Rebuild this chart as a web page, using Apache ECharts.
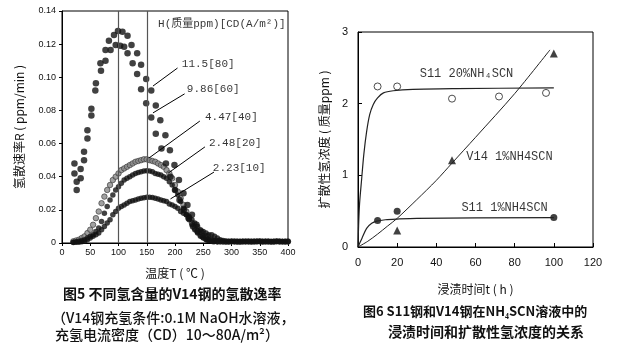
<!DOCTYPE html>
<html><head><meta charset="utf-8">
<script src="https://cdn.jsdelivr.net/npm/echarts/dist/echarts.min.js"></script>
<style>html,body{margin:0;padding:0;background:#fff}#c{width:617px;height:348px}</style>
</head><body><div id="c"></div>
<script>
// ---------- Figure 5 data (temperature °C, rate ppm/min) ----------
const temp80 = [22,26,33,39,45,52,60,68,77,83,92,99,107,116,123,133,140,149,158,166,174,183,191,199,207,215,222,230,238,246,255,264,275];
const rate80 = [0.048,0.037,0.0446,0.055,0.068,0.081,0.0964,0.1085,0.1165,0.122,0.1255,0.128,0.1275,0.125,0.1195,0.1145,0.1075,0.099,0.092,0.083,0.074,0.065,0.056,0.047,0.038,0.030,0.023,0.017,0.011,0.007,0.004,0.002,0.001];
const temp60 = [22,26,33,39,45,52,59,69,77,86,95,103,110,116,125,133,140,149,158,166,176,184,192,200,208,216,224,232,240,249,258,268];
const rate60 = [0.042,0.032,0.039,0.050,0.063,0.077,0.092,0.104,0.110,0.1165,0.1195,0.119,0.1185,0.1145,0.1085,0.102,0.0928,0.0843,0.0758,0.066,0.057,0.048,0.040,0.032,0.026,0.020,0.015,0.010,0.007,0.004,0.002,0.001];
const tempLow = [20,25,30,35,40,45,50,55,60,65,70,75,80,85,90,95,100,105,110,115,120,125,130,135,140,145,150,155,160,165,170,175,180,185,190,195,200,205,210,215,220,225,230,235,240,245,250,255,260,265,270,275,280,285,290,295,300,305,310,315,320,325,330,335,340,345,350,355,360,365,370,375,380,385,390,395,400];
const rate40 = [0.001,0.0015,0.002,0.003,0.004,0.006,0.008,0.011,0.015,0.019,0.024,0.028,0.032,0.035,0.038,0.040,0.042,0.044,0.045,0.046,0.047,0.048,0.049,0.0495,0.050,0.0505,0.0505,0.050,0.0495,0.049,0.048,0.047,0.046,0.044,0.042,0.039,0.035,0.031,0.027,0.023,0.019,0.015,0.012,0.009,0.007,0.005,0.0035,0.0025,0.002,0.0015,0.0012,0.001,0.001,0.0009,0.0008,0.0008,0.0009,0.001,0.0008,0.0007,0.0008,0.001,0.0009,0.0008,0.0008,0.0009,0.001,0.0008,0.0008,0.0009,0.0008,0.0008,0.001,0.0009,0.0008,0.0008,0.0009];
const rate20 = [0.0005,0.0008,0.001,0.0015,0.002,0.003,0.004,0.005,0.007,0.009,0.013,0.018,0.022,0.026,0.029,0.032,0.034,0.036,0.038,0.039,0.040,0.041,0.042,0.0425,0.043,0.0435,0.0436,0.0435,0.043,0.042,0.0415,0.041,0.040,0.039,0.037,0.035,0.032,0.029,0.025,0.021,0.017,0.014,0.011,0.008,0.006,0.004,0.003,0.002,0.0015,0.001,0.001,0.0009,0.0008,0.0008,0.0007,0.0008,0.0009,0.0008,0.0007,0.0008,0.0009,0.0008,0.0007,0.0008,0.0009,0.001,0.0009,0.0008,0.0009,0.0008,0.0007,0.0008,0.0009,0.0008,0.0009,0.0008,0.0008];
const rate10 = [0.0003,0.0004,0.0005,0.0007,0.001,0.002,0.003,0.004,0.005,0.006,0.008,0.010,0.012,0.014,0.017,0.019,0.021,0.022,0.023,0.024,0.025,0.0255,0.026,0.0265,0.027,0.0273,0.0276,0.0276,0.0275,0.027,0.0265,0.026,0.0255,0.025,0.0235,0.023,0.022,0.021,0.019,0.018,0.017,0.016,0.014,0.012,0.010,0.008,0.007,0.006,0.005,0.005,0.004,0.003,0.002,0.0015,0.0012,0.001,0.001,0.0009,0.001,0.0011,0.001,0.0009,0.001,0.0011,0.001,0.0009,0.001,0.001,0.0011,0.001,0.0009,0.001,0.0011,0.001,0.0009,0.001,0.001];
const fig5Labels = ['11.5[80]','9.86[60]','4.47[40]','2.48[20]','2.23[10]'];
const fig5Header = 'H(质量ppm)[CD(A/m²)]';
const fig5XTicks = [0,50,100,150,200,250,300,350,400];
const fig5YTicks = [0,0.02,0.04,0.06,0.08,0.10,0.12,0.14];

// ---------- Figure 6 data (time h, concentration ppm) ----------
const s11HiT = [10,20,48,72,96];
const s11HiV = [2.24,2.24,2.07,2.10,2.15];
const s11LoT = [10,20,100];
const s11LoV = [0.37,0.50,0.41];
const v14T = [20,48,100];
const v14V = [0.23,1.21,2.70];
const s11HiCurveT = [0,0.7,1.9,3,4.4,6,7.8,10,13,18,28,50,100];
const s11HiCurveV = [0,0.56,0.96,1.3,1.61,1.85,1.99,2.08,2.15,2.18,2.20,2.21,2.22];
const s11LoCurveT = [0,2,4.4,7,9.5,14,20,30,100];
const s11LoCurveV = [0,0.12,0.26,0.33,0.36,0.38,0.39,0.40,0.41];
const v14CurveT = [0,5,10,15,20,30,40,48,60,80,98];
const v14CurveV = [0,0.08,0.18,0.29,0.40,0.66,0.93,1.17,1.53,2.14,2.75];
const fig6Labels = ['S11 20%NH₄SCN','V14 1%NH4SCN','S11 1%NH4SCN'];

const zip = (a,b) => a.map((v,i)=>[v,b[i]]);
const monoFont = "'Liberation Mono','Noto Sans CJK SC',monospace";
const cjk = "'Noto Sans CJK SC','Liberation Sans',sans-serif";

const chart = echarts.init(document.getElementById('c'), null, {renderer:'canvas'});
const lbl = () => ({show:true, position:'right', distance:0, formatter:p=>p.data[2], color:'#000', fontFamily:monoFont, fontSize:11, align:'left', verticalAlign:'middle'});
const leader = (a,b) => [{coord:a},{coord:b}];

chart.setOption({
  animation:false,
  backgroundColor:'#fff',
  grid:[
    {left:62, top:11, width:226, height:232, show:true, borderColor:'#000', borderWidth:1},
    {left:358, top:32, width:235, height:215, show:true, borderColor:'#000', borderWidth:1}
  ],
  xAxis:[
    {gridIndex:0, type:'value', min:0, max:400, interval:50,
     name:'温度T ( ℃ )', nameLocation:'middle', nameGap:24, nameTextStyle:{fontFamily:cjk, fontSize:12, color:'#111'},
     axisLine:{lineStyle:{color:'#000'}}, axisTick:{show:true, length:3, lineStyle:{color:'#000'}},
     splitLine:{show:false}, axisLabel:{color:'#111', fontSize:9, margin:5, fontFamily:'Liberation Sans'}},
    {gridIndex:1, type:'value', min:0, max:120, interval:20,
     name:'浸渍时间t ( h )', nameLocation:'middle', nameGap:36, nameTextStyle:{fontFamily:cjk, fontSize:12, color:'#111'},
     axisLine:{lineStyle:{color:'#000'}}, axisTick:{show:true, inside:true, length:4, lineStyle:{color:'#000'}},
     splitLine:{show:false}, axisLabel:{color:'#111', fontSize:11, margin:10, fontFamily:'Liberation Sans'}}
  ],
  yAxis:[
    {gridIndex:0, type:'value', min:0, max:0.14, interval:0.02,
     name:'氢散速率R ( ppm/min )', nameLocation:'middle', nameGap:37, nameRotate:90, nameTextStyle:{fontFamily:cjk, fontSize:12, color:'#111'},
     axisLine:{lineStyle:{color:'#000'}}, axisTick:{show:true, length:3, lineStyle:{color:'#000'}},
     splitLine:{show:false}, axisLabel:{color:'#111', fontSize:9, margin:6, fontFamily:'Liberation Sans', formatter:v=>v===0?'0':v.toFixed(2)}},
    {gridIndex:1, type:'value', min:0, max:3, interval:1,
     name:'扩散性氢浓度 ( 质量ppm )', nameLocation:'middle', nameGap:28, nameRotate:90, nameTextStyle:{fontFamily:cjk, fontSize:12, color:'#111'},
     axisLine:{lineStyle:{color:'#000'}}, axisTick:{show:true, inside:true, length:4, lineStyle:{color:'#000'}},
     splitLine:{show:false}, axisLabel:{color:'#111', fontSize:11, margin:10, fontFamily:'Liberation Sans'}}
  ],
  series:[
    {type:'scatter', xAxisIndex:0, yAxisIndex:0, data:zip(tempLow,rate40), symbolSize:5.5,
     itemStyle:{color:'#8a8a8a', borderColor:'#333', borderWidth:0.8},
     markLine:{silent:true, symbol:'none', label:{show:false}, lineStyle:{color:'#555', width:1.2, type:'solid'},
       data:[{xAxis:100},{xAxis:150}]}},
    {type:'scatter', xAxisIndex:0, yAxisIndex:0, data:zip(tempLow,rate20), symbolSize:5.5, itemStyle:{color:'#111'}},
    {type:'scatter', xAxisIndex:0, yAxisIndex:0, data:zip(tempLow,rate10), symbolSize:5.5, itemStyle:{color:'#111'}},
    {type:'scatter', xAxisIndex:0, yAxisIndex:0, data:zip(temp60,rate60), symbolSize:6.5, itemStyle:{color:'#111'}},
    {type:'scatter', xAxisIndex:0, yAxisIndex:0, data:zip(temp80,rate80), symbolSize:6.5, itemStyle:{color:'#111'}},
    {type:'scatter', xAxisIndex:0, yAxisIndex:0, symbolSize:0, silent:true,
     data:[[212,0.108,fig5Labels[0]],[221,0.093,fig5Labels[1]],[253,0.076,fig5Labels[2]],[260,0.060,fig5Labels[3]],[267,0.045,fig5Labels[4]],[170,0.132,fig5Header]],
     label:lbl(),
     markLine:{silent:true, symbol:'none', label:{show:false}, lineStyle:{color:'#000', width:1, type:'solid'},
       data:[leader([161,0.0947],[204.5,0.1056]), leader([161,0.0785],[217,0.090]), leader([154,0.0513],[244,0.0736]), leader([188,0.0422],[253,0.058]), leader([192,0.0266],[269,0.0428])]}},
    // Figure 6
    {type:'line', xAxisIndex:1, yAxisIndex:1, data:zip(s11HiCurveT,s11HiCurveV), smooth:0.3, showSymbol:false, lineStyle:{color:'#222', width:1.2}},
    {type:'line', xAxisIndex:1, yAxisIndex:1, data:zip(s11LoCurveT,s11LoCurveV), smooth:0.3, showSymbol:false, lineStyle:{color:'#222', width:1.2}},
    {type:'line', xAxisIndex:1, yAxisIndex:1, data:zip(v14CurveT,v14CurveV), smooth:0.3, showSymbol:false, lineStyle:{color:'#222', width:1}},
    {type:'scatter', xAxisIndex:1, yAxisIndex:1, data:zip(s11HiT,s11HiV), symbol:'circle', symbolSize:7, itemStyle:{color:'#fff', borderColor:'#222', borderWidth:1}},
    {type:'scatter', xAxisIndex:1, yAxisIndex:1, data:zip(s11LoT,s11LoV), symbol:'circle', symbolSize:7, itemStyle:{color:'#111'}},
    {type:'scatter', xAxisIndex:1, yAxisIndex:1, data:zip(v14T,v14V), symbol:'triangle', symbolSize:8, itemStyle:{color:'#111'}},
    {type:'scatter', xAxisIndex:1, yAxisIndex:1, symbolSize:0, silent:true,
     data:[[31.5,2.41,fig6Labels[0]],[55.3,1.26,fig6Labels[1]],[52.8,0.55,fig6Labels[2]]],
     label:Object.assign(lbl(), {fontSize:12})}
  ],
  graphic:[
    {type:'text', left:63, top:287, style:{text:'图5 不同氢含量的V14钢的氢散逸率', font:"bold 14px 'Noto Sans CJK SC'", fill:'#111'}},
    {type:'text', left:52, top:311, style:{text:'（V14钢充氢条件:0.1M NaOH水溶液，', font:"500 14px 'Noto Sans CJK SC'", fill:'#111'}},
    {type:'text', left:55, top:328, style:{text:'充氢电流密度（CD）10～80A/m²）', font:"500 14px 'Noto Sans CJK SC'", fill:'#111'}},
    {type:'text', left:363, top:305, style:{text:'图6 S11钢和V14钢在NH₄SCN溶液中的', font:"bold 13px 'Noto Sans CJK SC'", fill:'#111'}},
    {type:'text', left:388, top:325, style:{text:'浸渍时间和扩散性氢浓度的关系', font:"bold 14px 'Noto Sans CJK SC'", fill:'#111'}}
  ]
});
</script></body></html>
